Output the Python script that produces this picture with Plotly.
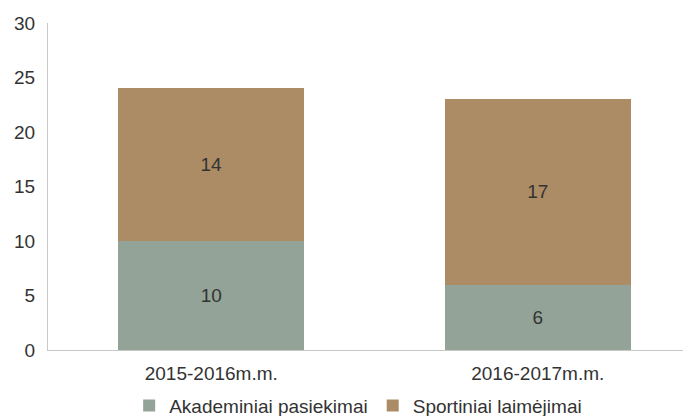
import plotly.graph_objects as go

categories = ["2015-2016m.m.", "2016-2017m.m."]
akademiniai = [10, 6]
sportiniai = [14, 17]
series_names = ["Akademiniai pasiekimai", "Sportiniai laimėjimai"]

font_family = "Liberation Sans, Arial, sans-serif"
text_color = "#333333"

fig = go.Figure()
fig.add_trace(go.Bar(
    x=categories, y=akademiniai, name=series_names[0],
    marker=dict(color="#93a397", line=dict(width=0)),
    text=akademiniai, textposition="inside", insidetextanchor="middle",
    textfont=dict(size=19, color=text_color, family=font_family),
))
fig.add_trace(go.Bar(
    x=categories, y=sportiniai, name=series_names[1],
    marker=dict(color="#ab8c65", line=dict(width=0)),
    text=sportiniai, textposition="inside", insidetextanchor="middle",
    textfont=dict(size=19, color=text_color, family=font_family),
))

# page body has an 8px default margin; margins compensate for it
fig.update_layout(
    barmode="stack",
    bargap=0.43,
    width=693, height=416,
    margin=dict(l=40, r=0, t=15, b=74, autoexpand=False),
    plot_bgcolor="white", paper_bgcolor="white",
    font=dict(family=font_family, size=19, color=text_color),
    showlegend=True,
    legend=dict(orientation="h", x=0.475, xanchor="center", y=-0.112, yanchor="top",
                font=dict(size=19, color=text_color), itemwidth=30,
                traceorder="normal"),
    uniformtext=dict(minsize=10, mode="show"),
)
fig.update_yaxes(
    range=[0, 30], dtick=5, showgrid=False, zeroline=False,
    showline=True, linecolor="#c8c8c8", linewidth=1,
    ticks="", ticklabelstandoff=8,
    tickfont=dict(size=19, color=text_color),
)
fig.update_xaxes(
    showgrid=False, showline=True, linecolor="#c8c8c8", linewidth=1,
    ticks="", ticklabelstandoff=6,
    tickfont=dict(size=19, color=text_color),
)

fig.write_html("out.html")
